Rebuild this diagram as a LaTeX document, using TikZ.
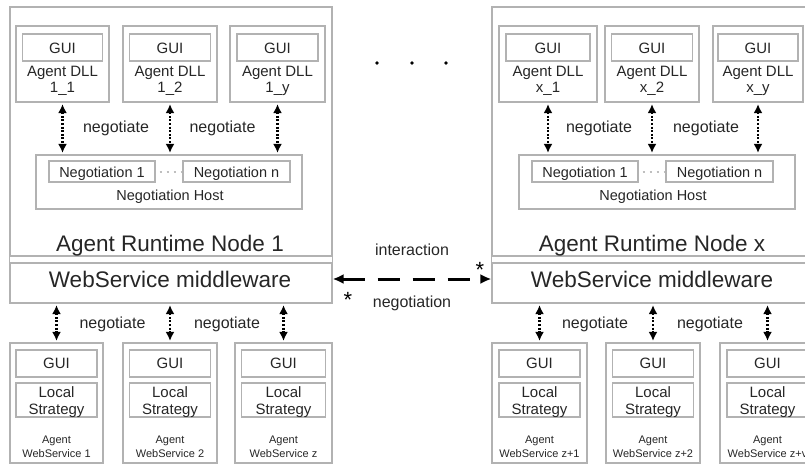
\documentclass[tikz,border=0pt]{standalone}
\usepackage{fontspec}
\setmainfont{Liberation Sans}
\usepackage{tikz}
\usetikzlibrary{arrows.meta,calc,positioning}
\tikzset{pane/.style={draw=black!30, line width=1.2pt, inner sep=0pt},
  txt/.style={text=black!85, font=\fontsize{15}{17}\selectfont, inner sep=0pt, anchor=base},
  bigtxt/.style={txt, font=\fontsize{22.5}{26}\selectfont},
  smalltxt/.style={txt, font=\fontsize{11}{13}\selectfont},
  negtxt/.style={txt, font=\fontsize{16}{18}\selectfont},
  hosttxt/.style={txt, font=\fontsize{14.5}{16}\selectfont},
  startxt/.style={txt, text=black, font=\fontsize{22}{24}\selectfont},
  negarrow/.style={{Latex[length=9pt,width=9pt]}-{Latex[length=9pt,width=9pt]}, line width=2.4pt, dash pattern=on 2pt off 1.6pt, shorten <=1.5pt, shorten >=1.5pt},
  msgarrow/.style={{Latex[length=11pt,width=10pt]}-{Latex[length=11pt,width=10pt]}, line width=3pt, dash pattern=on 22pt off 13pt}}

\begin{document}
\begin{tikzpicture}[x=1pt,y=-1pt]
	\useasboundingbox (0,0) rectangle (805,466);
	\clip (0,0) rectangle (805,466);

	% runtime node 1
	\node[pane, minimum width=322pt, minimum height=249pt] (rt1) at (171,131.5) {};
	\node[pane, minimum width=322pt, minimum height=40pt] (mw1) at (171,283) {};
	\draw[pane] (rt1.south west) -- (mw1.north west);
	\draw[pane] (rt1.south east) -- (mw1.north east);
	\node[bigtxt] (rt1lbl) at (170,251) {Agent Runtime Node 1};
	\node[bigtxt] (mw1lbl) at (170,287) {WebService middleware};

	\node[pane, minimum width=93pt, minimum height=76pt] (dll11) at (62.5,64) {};
	\node[pane, minimum width=80pt, minimum height=27pt] (gui11) at (62.5,47.5) {};
	\node[txt] (gui11lbl) at (62.5,53.5) {GUI};
	\node[txt] (dll11a) at (62.5,76) {Agent DLL};
	\node[txt] (dll11b) at (62.5,92) {1\_1};

	\node[pane, minimum width=94pt, minimum height=76pt] (dll12) at (170,64) {};
	\node[pane, minimum width=81pt, minimum height=27pt] (gui12) at (170,47.5) {};
	\node[txt] (gui12lbl) at (170,53.5) {GUI};
	\node[txt] (dll12a) at (170,76) {Agent DLL};
	\node[txt] (dll12b) at (170,92) {1\_2};

	\node[pane, minimum width=95pt, minimum height=76pt] (dll13) at (277.5,64) {};
	\node[pane, minimum width=81pt, minimum height=27pt] (gui13) at (277.5,47.5) {};
	\node[txt] (gui13lbl) at (277.5,53.5) {GUI};
	\node[txt] (dll13a) at (277.5,76) {Agent DLL};
	\node[txt] (dll13b) at (277.5,92) {1\_y};

	\node[pane, minimum width=266pt, minimum height=54pt] (host1) at (169,182) {};
	\node[pane, minimum width=106pt, minimum height=21pt] (neg11) at (102,171.5) {};
	\node[hosttxt] (neg11lbl) at (102,177) {Negotiation 1};
	\node[pane, minimum width=107pt, minimum height=21pt] (neg1n) at (236.5,171.5) {};
	\node[hosttxt] (neg1nlbl) at (236.5,177) {Negotiation n};
	\draw[black!25, line width=2pt, dash pattern=on 2pt off 5pt, dash phase=-4pt] (neg11.east) -- (neg1n.west);
	\node[hosttxt] (host1lbl) at (170,200) {Negotiation Host};

	\draw[negarrow] (dll11.south) -- (dll11.south |- host1.north);
	\draw[negarrow] (dll12.south) -- (dll12.south |- host1.north);
	\draw[negarrow] (dll13.south) -- (dll13.south |- host1.north);
	\node[negtxt] (neg1a) at (116,132) {negotiate};
	\node[negtxt] (neg1b) at (222.5,132) {negotiate};

	% web services of node 1
	\node[pane, minimum width=93pt, minimum height=120pt] (ws1) at (56.5,403) {};
	\node[pane, minimum width=81pt, minimum height=27pt] (wsgui1) at (56.5,363.5) {};
	\node[pane, minimum width=81pt, minimum height=34pt] (ls1) at (56.5,400) {};
	\node[txt] (wsgui1lbl) at (56.5,368) {GUI};
	\node[txt] (ls1a) at (56.5,397) {Local};
	\node[txt] (ls1b) at (56.5,414) {Strategy};
	\node[smalltxt] (ws1a) at (56.5,443) {Agent};
	\node[smalltxt] (ws1b) at (56.5,457) {WebService 1};

	\node[pane, minimum width=94pt, minimum height=120pt] (ws2) at (170,403) {};
	\node[pane, minimum width=81pt, minimum height=27pt] (wsgui2) at (170,363.5) {};
	\node[pane, minimum width=81pt, minimum height=34pt] (ls2) at (170,400) {};
	\node[txt] (wsgui2lbl) at (170,368) {GUI};
	\node[txt] (ls2a) at (170,397) {Local};
	\node[txt] (ls2b) at (170,414) {Strategy};
	\node[smalltxt] (ws2a) at (170,443) {Agent};
	\node[smalltxt] (ws2b) at (170,457) {WebService 2};

	\node[pane, minimum width=97pt, minimum height=120pt] (ws3) at (283.5,403) {};
	\node[pane, minimum width=84pt, minimum height=27pt] (wsgui3) at (283.5,363.5) {};
	\node[pane, minimum width=84pt, minimum height=34pt] (ls3) at (283.5,400) {};
	\node[txt] (wsgui3lbl) at (283.5,368) {GUI};
	\node[txt] (ls3a) at (283.5,397) {Local};
	\node[txt] (ls3b) at (283.5,414) {Strategy};
	\node[smalltxt] (ws3a) at (283.5,443) {Agent};
	\node[smalltxt] (ws3b) at (283.5,457) {WebService z};

	\draw[negarrow] (mw1.south -| ws1.north) -- (ws1.north);
	\draw[negarrow] (mw1.south -| ws2.north) -- (ws2.north);
	\draw[negarrow] (mw1.south -| ws3.north) -- (ws3.north);
	\node[negtxt] (neg1c) at (112.5,328) {negotiate};
	\node[negtxt] (neg1d) at (227,328) {negotiate};

	% runtime node x
	\node[pane, minimum width=328pt, minimum height=249pt] (rtx) at (656,131.5) {};
	\node[pane, minimum width=328pt, minimum height=40pt] (mwx) at (656,283) {};
	\draw[pane] (rtx.south west) -- (mwx.north west);
	\node[bigtxt] (rtxlbl) at (652,251) {Agent Runtime Node x};
	\node[bigtxt] (mwxlbl) at (652,287) {WebService middleware};

	\node[pane, minimum width=98pt, minimum height=76pt] (dllx1) at (548,64) {};
	\node[pane, minimum width=84pt, minimum height=27pt] (guix1) at (548,47.5) {};
	\node[txt] (guix1lbl) at (548,53.5) {GUI};
	\node[txt] (dllx1a) at (548,76) {Agent DLL};
	\node[txt] (dllx1b) at (548,92) {x\_1};

	\node[pane, minimum width=94pt, minimum height=76pt] (dllx2) at (652,64) {};
	\node[pane, minimum width=81pt, minimum height=27pt] (guix2) at (652,47.5) {};
	\node[txt] (guix2lbl) at (652,53.5) {GUI};
	\node[txt] (dllx2a) at (652,76) {Agent DLL};
	\node[txt] (dllx2b) at (652,92) {x\_2};

	\node[pane, minimum width=90pt, minimum height=76pt] (dllxy) at (758,64) {};
	\node[pane, minimum width=80pt, minimum height=27pt] (guixy) at (758,47.5) {};
	\node[txt] (guixylbl) at (758,53.5) {GUI};
	\node[txt] (dllxya) at (758,76) {Agent DLL};
	\node[txt] (dllxyb) at (758,92) {x\_y};

	\node[pane, minimum width=276pt, minimum height=54pt] (hostx) at (657,182) {};
	\node[pane, minimum width=106pt, minimum height=21pt] (negx1) at (585,171.5) {};
	\node[hosttxt] (negx1lbl) at (585,177) {Negotiation 1};
	\node[pane, minimum width=107pt, minimum height=21pt] (negxn) at (719.5,171.5) {};
	\node[hosttxt] (negxnlbl) at (719.5,177) {Negotiation n};
	\draw[black!25, line width=2pt, dash pattern=on 2pt off 5pt, dash phase=-4pt] (negx1.east) -- (negxn.west);
	\node[hosttxt] (hostxlbl) at (653,200) {Negotiation Host};

	\draw[negarrow] (dllx1.south) -- (dllx1.south |- hostx.north);
	\draw[negarrow] (dllx2.south) -- (dllx2.south |- hostx.north);
	\draw[negarrow] (dllxy.south) -- (dllxy.south |- hostx.north);
	\node[negtxt] (negxa) at (599,132) {negotiate};
	\node[negtxt] (negxb) at (706,132) {negotiate};

	% web services of node x
	\node[pane, minimum width=95pt, minimum height=120pt] (wsz1) at (539.5,403) {};
	\node[pane, minimum width=81pt, minimum height=27pt] (wsguiz1) at (539.5,363.5) {};
	\node[pane, minimum width=81pt, minimum height=34pt] (lsz1) at (539.5,400) {};
	\node[txt] (wsguiz1lbl) at (539.5,368) {GUI};
	\node[txt] (lsz1a) at (539.5,397) {Local};
	\node[txt] (lsz1b) at (539.5,414) {Strategy};
	\node[smalltxt] (wsz1a) at (539.5,443) {Agent};
	\node[smalltxt] (wsz1b) at (539.5,457) {WebService z+1};

	\node[pane, minimum width=94pt, minimum height=120pt] (wsz2) at (653,403) {};
	\node[pane, minimum width=81pt, minimum height=27pt] (wsguiz2) at (653,363.5) {};
	\node[pane, minimum width=81pt, minimum height=34pt] (lsz2) at (653,400) {};
	\node[txt] (wsguiz2lbl) at (653,368) {GUI};
	\node[txt] (lsz2a) at (653,397) {Local};
	\node[txt] (lsz2b) at (653,414) {Strategy};
	\node[smalltxt] (wsz2a) at (653,443) {Agent};
	\node[smalltxt] (wsz2b) at (653,457) {WebService z+2};

	\node[pane, minimum width=95pt, minimum height=120pt] (wszv) at (767.5,403) {};
	\node[pane, minimum width=81pt, minimum height=27pt] (wsguizv) at (767.5,363.5) {};
	\node[pane, minimum width=81pt, minimum height=34pt] (lszv) at (767.5,400) {};
	\node[txt] (wsguizvlbl) at (767.5,368) {GUI};
	\node[txt] (lszva) at (767.5,397) {Local};
	\node[txt] (lszvb) at (767.5,414) {Strategy};
	\node[smalltxt] (wszva) at (767.5,443) {Agent};
	\node[smalltxt] (wszvb) at (767.5,457) {WebService z+v};

	\draw[negarrow] (mwx.south -| wsz1.north) -- (wsz1.north);
	\draw[negarrow] (mwx.south -| wsz2.north) -- (wsz2.north);
	\draw[negarrow] (mwx.south -| wszv.north) -- (wszv.north);
	\node[negtxt] (negxc) at (595,328) {negotiate};
	\node[negtxt] (negxd) at (710,328) {negotiate};

	% between the nodes
	\fill (377,63) circle (1.8);
	\fill (412,63) circle (1.8);
	\fill (446,63) circle (1.8);
	\node[negtxt] (interlbl) at (412,255) {interaction};
	\node[negtxt] (negolbl) at (412,307) {negotiation};
	\draw[msgarrow] ([yshift=4pt]mw1.east) -- ([yshift=4pt]mwx.west);
	\node[startxt] (star1) at (348,307.5) {*};
	\node[startxt] (starx) at (480,277.5) {*};
\end{tikzpicture}
\end{document}
